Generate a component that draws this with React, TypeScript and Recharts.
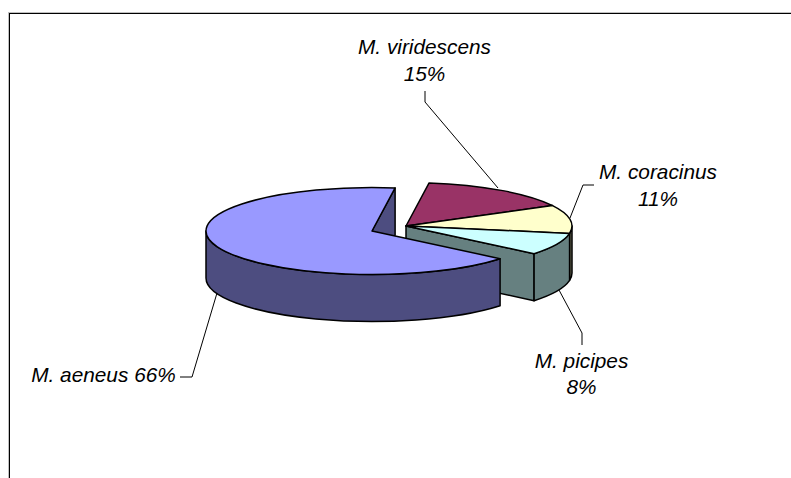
import { PieChart, Pie, Cell } from "recharts";

const speciesNames = ["M. viridescens", "M. coracinus", "M. picipes", "M. aeneus"];
// the labels show them rounded
const speciesShares = [15, 10.5, 8.25, 66.25];

const chartData = speciesNames.map((name, i) => ({ name, value: speciesShares[i] }));

const topColors = ["#993366", "#FFFFCC", "#CCFFFF", "#9999FF"];
const sideColors = ["#4D1A33", "#808066", "#668080", "#4D4D80"];

const TILT = 43.5 / 166;
const DEPTH = 47;
// the big slice is pulled away from the other three
const EXPLODE = [
  { x: 0, y: 0 },
  { x: 0, y: 0 },
  { x: 0, y: 0 },
  { x: -34, y: 5 },
];

const RAD = Math.PI / 180;

function Slice3D(props: any) {
  const { cx, cy, outerRadius: r, startAngle, endAngle, index } = props;
  const off = EXPLODE[index] || { x: 0, y: 0 };
  const ox = cx + off.x;
  const oy = cy + off.y;
  const ry = r * TILT;
  const px = (deg: number) => ox + r * Math.cos(deg * RAD);
  const py = (deg: number) => oy - ry * Math.sin(deg * RAD);
  const hi = Math.max(startAngle, endAngle);
  const lo = Math.min(startAngle, endAngle);
  const large = hi - lo > 180 ? 1 : 0;
  const stroke = { stroke: "#000", strokeWidth: 1.5, strokeLinejoin: "round" as const };

  const top = `M${ox},${oy} L${px(hi)},${py(hi)} A${r},${ry} 0 ${large} 1 ${px(lo)},${py(lo)} Z`;

  // cut face seen through the gap between the slices
  const face = (deg: number) =>
    `M${ox},${oy} L${px(deg)},${py(deg)} L${px(deg)},${py(deg) + DEPTH} L${ox},${oy + DEPTH} Z`;

  const faces: string[] = [];
  if (index === 2) faces.push(face(lo));
  if (index === 3) faces.push(face(lo));

  // outer rim, only the part that faces the viewer
  const s = Math.max(-180, lo);
  const e = Math.min(0, hi);
  const rim =
    e > s
      ? `M${px(s)},${py(s)} A${r},${ry} 0 0 0 ${px(e)},${py(e)} L${px(e)},${py(e) + DEPTH} A${r},${ry} 0 0 1 ${px(s)},${py(s) + DEPTH} Z`
      : null;

  return (
    <g>
      {faces.map((d, i) => (
        <path key={i} d={d} fill={sideColors[index]} {...stroke} />
      ))}
      {rim && <path d={rim} fill={sideColors[index]} {...stroke} />}
      <path d={top} fill={topColors[index]} {...stroke} />
    </g>
  );
}

// text anchor and leader line of each label
const labelSpots = [
  { x: 424.5, y: 54, lines: 2, path: "425,91 425,102 498,188" },
  { x: 658, y: 179, lines: 2, path: "594,185 583,185 570,218" },
  { x: 581.5, y: 367.5, lines: 2, path: "582,345 582,333 559,290" },
  { x: 103.5, y: 381.5, lines: 1, path: "180,377 192,377 217,293" },
];

function SliceLabel(props: any) {
  const { index, name, value } = props;
  const spot = labelSpots[index];
  const pct = Math.round(value);
  const common = {
    fontFamily: "Liberation Sans, Arial, sans-serif",
    fontStyle: "italic",
    fontSize: 20.8,
    fill: "#000",
    textAnchor: "middle" as const,
  };
  return (
    <g>
      <polyline points={spot.path} fill="none" stroke="#000" strokeWidth={1} />
      {spot.lines === 2 ? (
        <text {...common} x={spot.x} y={spot.y}>
          <tspan x={spot.x}>{name}</tspan>
          <tspan x={spot.x} dy={26.5}>{pct}%</tspan>
        </text>
      ) : (
        <text {...common} x={spot.x} y={spot.y}>
          {name} {pct}%
        </text>
      )}
    </g>
  );
}

export default function App() {
  return (
    <div style={{ position: "absolute", left: 0, top: 0, width: 791, height: 478, overflow: "hidden", background: "#fff" }}>
      <div
        style={{
          position: "absolute",
          left: 9,
          top: 13,
          width: 900,
          height: 600,
          borderTop: "1px solid #000",
          borderLeft: "1px solid #000",
          boxShadow: "-1px -1px 0 #c0c0c0",
        }}
      />
      <div style={{ position: "absolute", left: 0, top: 0 }}>
        <PieChart width={791} height={478} margin={{ top: 0, right: 0, bottom: 0, left: 0 }}>
          <Pie
            data={chartData}
            dataKey="value"
            nameKey="name"
            cx={406}
            cy={226}
            innerRadius={0}
            outerRadius={166}
            startAngle={82}
            endAngle={-278}
            paddingAngle={0}
            isAnimationActive={false}
            shape={Slice3D}
            label={SliceLabel}
            labelLine={false}
          >
            {chartData.map((d, i) => (
              <Cell key={d.name} fill={topColors[i]} />
            ))}
          </Pie>
        </PieChart>
      </div>
    </div>
  );
}
